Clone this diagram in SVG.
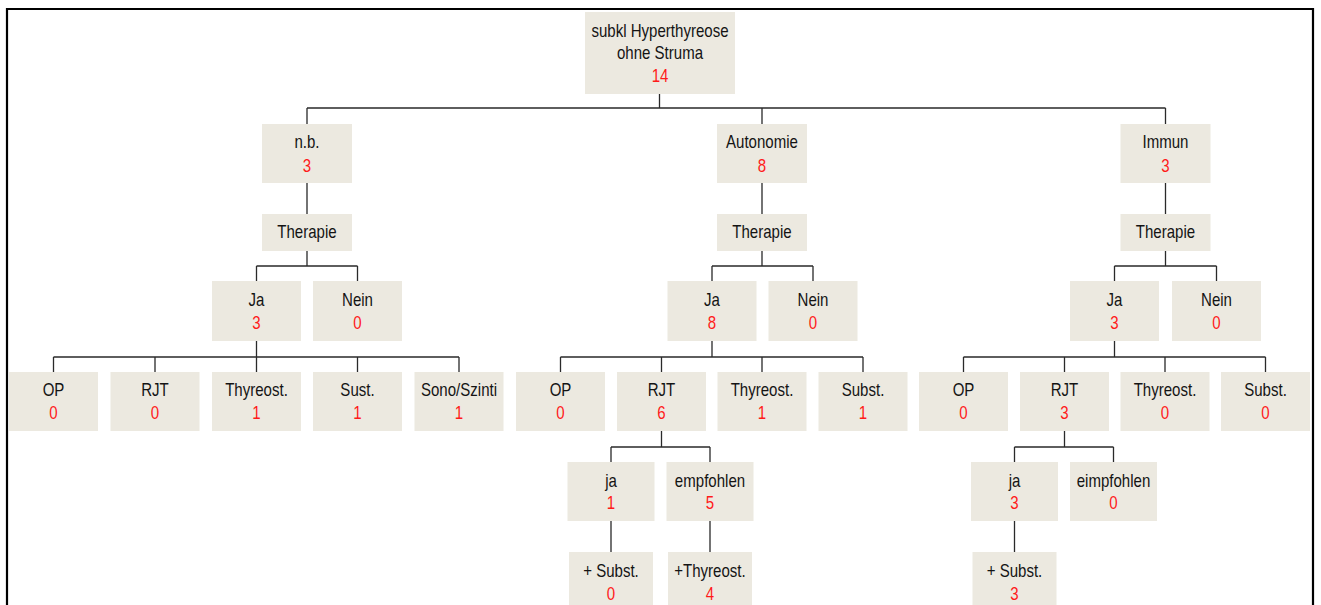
<svg xmlns="http://www.w3.org/2000/svg" width="1321" height="605" viewBox="0 0 1321 605">
  <style>
    .box { fill: #ECE9E0; }
    .t { font-family: "Liberation Sans", Arial, sans-serif; font-size: 17.5px; text-anchor: middle; fill: #141414; }
    .n { fill: #FF1A1A; }
    .wire { fill: none; stroke: #2a2a2a; stroke-width: 1.3; }
    .frame { fill: none; stroke: #000; stroke-width: 2.2; }
  </style>

  <rect width="1321" height="605" fill="#fff"/>
  <!-- outer frame, open at the bottom -->
  <path class="frame" d="M7,620 V9 H1313 V620"/>

  <!-- connectors -->
  <g id="connectors" class="wire">
    <!-- root to level 1 -->
    <path d="M659.5,94 V108 M307,108 H1165.5 M307,108 V124 M762,108 V124 M1165.5,108 V124"/>
    <!-- level 1 to Therapie -->
    <path d="M307,183 V214 M762,183 V214 M1165.5,183 V214"/>
    <!-- Therapie to Ja / Nein -->
    <path d="M307,251 V266 M256.5,266 H357.5 M256.5,266 V281 M357.5,266 V281"/>
    <path d="M762,251 V266 M712,266 H813 M712,266 V281 M813,266 V281"/>
    <path d="M1165.5,251 V266 M1114.5,266 H1216.5 M1114.5,266 V281 M1216.5,266 V281"/>
    <!-- Ja to treatment options -->
    <path d="M256.5,341 V372 M53.5,357 H459 M53.5,357 V372 M155,357 V372 M357.5,357 V372 M459,357 V372"/>
    <path d="M712,341 V357 M560.5,357 H863 M560.5,357 V372 M661.5,357 V372 M762,357 V372 M863,357 V372"/>
    <path d="M1114.5,341 V357 M963.5,357 H1265.5 M963.5,357 V372 M1064.5,357 V372 M1165,357 V372 M1265.5,357 V372"/>
    <!-- RJT to ja / empfohlen -->
    <path d="M661.5,431 V447 M611,447 H710 M611,447 V462 M710,447 V462"/>
    <path d="M1064.5,431 V447 M1014.5,447 H1113.5 M1014.5,447 V462 M1113.5,447 V462"/>
    <!-- follow-up -->
    <path d="M611,521 V552 M710,521 V552 M1014.5,521 V552"/>
  </g>

  <!-- root -->
  <g id="root" transform="translate(660,0)">
    <rect class="box" x="-75" y="12" width="150" height="82"/>
    <text class="t" transform="translate(0,37) scale(0.86,1)">subkl Hyperthyreose</text>
    <text class="t" transform="translate(0,59) scale(0.86,1)">ohne Struma</text>
    <text class="t n" transform="translate(0,82) scale(0.86,1)">14</text>
  </g>

  <!-- level 1 -->
  <g id="nb" transform="translate(307,0)">
    <rect class="box" x="-45" y="124" width="90" height="59"/>
    <text class="t" transform="translate(0,148) scale(0.86,1)">n.b.</text>
    <text class="t n" transform="translate(0,172) scale(0.86,1)">3</text>
  </g>
  <g id="autonomie" transform="translate(762,0)">
    <rect class="box" x="-45" y="124" width="90" height="59"/>
    <text class="t" transform="translate(0,148) scale(0.86,1)">Autonomie</text>
    <text class="t n" transform="translate(0,172) scale(0.86,1)">8</text>
  </g>
  <g id="immun" transform="translate(1165.5,0)">
    <rect class="box" x="-45" y="124" width="90" height="59"/>
    <text class="t" transform="translate(0,148) scale(0.86,1)">Immun</text>
    <text class="t n" transform="translate(0,172) scale(0.86,1)">3</text>
  </g>

  <!-- Therapie -->
  <g id="nb-therapie" transform="translate(307,0)">
    <rect class="box" x="-45" y="214" width="90" height="37"/>
    <text class="t" transform="translate(0,238) scale(0.86,1)">Therapie</text>
  </g>
  <g id="aut-therapie" transform="translate(762,0)">
    <rect class="box" x="-45" y="214" width="90" height="37"/>
    <text class="t" transform="translate(0,238) scale(0.86,1)">Therapie</text>
  </g>
  <g id="imm-therapie" transform="translate(1165.5,0)">
    <rect class="box" x="-45" y="214" width="90" height="37"/>
    <text class="t" transform="translate(0,238) scale(0.86,1)">Therapie</text>
  </g>

  <!-- Ja / Nein -->
  <g id="nb-ja" transform="translate(256.5,0)">
    <rect class="box" x="-44.5" y="281" width="89" height="60"/>
    <text class="t" transform="translate(0,306) scale(0.86,1)">Ja</text>
    <text class="t n" transform="translate(0,329) scale(0.86,1)">3</text>
  </g>
  <g id="nb-nein" transform="translate(357.5,0)">
    <rect class="box" x="-44.5" y="281" width="89" height="60"/>
    <text class="t" transform="translate(0,306) scale(0.86,1)">Nein</text>
    <text class="t n" transform="translate(0,329) scale(0.86,1)">0</text>
  </g>
  <g id="aut-ja" transform="translate(712,0)">
    <rect class="box" x="-44.5" y="281" width="89" height="60"/>
    <text class="t" transform="translate(0,306) scale(0.86,1)">Ja</text>
    <text class="t n" transform="translate(0,329) scale(0.86,1)">8</text>
  </g>
  <g id="aut-nein" transform="translate(813,0)">
    <rect class="box" x="-44.5" y="281" width="89" height="60"/>
    <text class="t" transform="translate(0,306) scale(0.86,1)">Nein</text>
    <text class="t n" transform="translate(0,329) scale(0.86,1)">0</text>
  </g>
  <g id="imm-ja" transform="translate(1114.5,0)">
    <rect class="box" x="-44.5" y="281" width="89" height="60"/>
    <text class="t" transform="translate(0,306) scale(0.86,1)">Ja</text>
    <text class="t n" transform="translate(0,329) scale(0.86,1)">3</text>
  </g>
  <g id="imm-nein" transform="translate(1216.5,0)">
    <rect class="box" x="-44.5" y="281" width="89" height="60"/>
    <text class="t" transform="translate(0,306) scale(0.86,1)">Nein</text>
    <text class="t n" transform="translate(0,329) scale(0.86,1)">0</text>
  </g>

  <!-- treatment options: n.b. -->
  <g id="nb-op" transform="translate(53.5,0)">
    <rect class="box" x="-44.5" y="372" width="89" height="59"/>
    <text class="t" transform="translate(0,396) scale(0.86,1)">OP</text>
    <text class="t n" transform="translate(0,419) scale(0.86,1)">0</text>
  </g>
  <g id="nb-rjt" transform="translate(155,0)">
    <rect class="box" x="-44.5" y="372" width="89" height="59"/>
    <text class="t" transform="translate(0,396) scale(0.86,1)">RJT</text>
    <text class="t n" transform="translate(0,419) scale(0.86,1)">0</text>
  </g>
  <g id="nb-thyreost" transform="translate(256.5,0)">
    <rect class="box" x="-44.5" y="372" width="89" height="59"/>
    <text class="t" transform="translate(0,396) scale(0.86,1)">Thyreost.</text>
    <text class="t n" transform="translate(0,419) scale(0.86,1)">1</text>
  </g>
  <g id="nb-sust" transform="translate(357.5,0)">
    <rect class="box" x="-44.5" y="372" width="89" height="59"/>
    <text class="t" transform="translate(0,396) scale(0.86,1)">Sust.</text>
    <text class="t n" transform="translate(0,419) scale(0.86,1)">1</text>
  </g>
  <g id="nb-sono" transform="translate(459,0)">
    <rect class="box" x="-44.5" y="372" width="89" height="59"/>
    <text class="t" transform="translate(0,396) scale(0.86,1)">Sono/Szinti</text>
    <text class="t n" transform="translate(0,419) scale(0.86,1)">1</text>
  </g>

  <!-- treatment options: Autonomie -->
  <g id="aut-op" transform="translate(560.5,0)">
    <rect class="box" x="-44.5" y="372" width="89" height="59"/>
    <text class="t" transform="translate(0,396) scale(0.86,1)">OP</text>
    <text class="t n" transform="translate(0,419) scale(0.86,1)">0</text>
  </g>
  <g id="aut-rjt" transform="translate(661.5,0)">
    <rect class="box" x="-44.5" y="372" width="89" height="59"/>
    <text class="t" transform="translate(0,396) scale(0.86,1)">RJT</text>
    <text class="t n" transform="translate(0,419) scale(0.86,1)">6</text>
  </g>
  <g id="aut-thyreost" transform="translate(762,0)">
    <rect class="box" x="-44.5" y="372" width="89" height="59"/>
    <text class="t" transform="translate(0,396) scale(0.86,1)">Thyreost.</text>
    <text class="t n" transform="translate(0,419) scale(0.86,1)">1</text>
  </g>
  <g id="aut-subst" transform="translate(863,0)">
    <rect class="box" x="-44.5" y="372" width="89" height="59"/>
    <text class="t" transform="translate(0,396) scale(0.86,1)">Subst.</text>
    <text class="t n" transform="translate(0,419) scale(0.86,1)">1</text>
  </g>

  <!-- treatment options: Immun -->
  <g id="imm-op" transform="translate(963.5,0)">
    <rect class="box" x="-44.5" y="372" width="89" height="59"/>
    <text class="t" transform="translate(0,396) scale(0.86,1)">OP</text>
    <text class="t n" transform="translate(0,419) scale(0.86,1)">0</text>
  </g>
  <g id="imm-rjt" transform="translate(1064.5,0)">
    <rect class="box" x="-44.5" y="372" width="89" height="59"/>
    <text class="t" transform="translate(0,396) scale(0.86,1)">RJT</text>
    <text class="t n" transform="translate(0,419) scale(0.86,1)">3</text>
  </g>
  <g id="imm-thyreost" transform="translate(1165,0)">
    <rect class="box" x="-44.5" y="372" width="89" height="59"/>
    <text class="t" transform="translate(0,396) scale(0.86,1)">Thyreost.</text>
    <text class="t n" transform="translate(0,419) scale(0.86,1)">0</text>
  </g>
  <g id="imm-subst" transform="translate(1265.5,0)">
    <rect class="box" x="-44.5" y="372" width="89" height="59"/>
    <text class="t" transform="translate(0,396) scale(0.86,1)">Subst.</text>
    <text class="t n" transform="translate(0,419) scale(0.86,1)">0</text>
  </g>

  <!-- RJT outcome: Autonomie -->
  <g id="aut-rjt-ja" transform="translate(611,0)">
    <rect class="box" x="-43.5" y="462" width="87" height="59"/>
    <text class="t" transform="translate(0,486.5) scale(0.86,1)">ja</text>
    <text class="t n" transform="translate(0,509) scale(0.86,1)">1</text>
  </g>
  <g id="aut-rjt-empf" transform="translate(710,0)">
    <rect class="box" x="-43.5" y="462" width="87" height="59"/>
    <text class="t" transform="translate(0,486.5) scale(0.86,1)">empfohlen</text>
    <text class="t n" transform="translate(0,509) scale(0.86,1)">5</text>
  </g>
  <g id="aut-rjt-subst" transform="translate(611,0)">
    <rect class="box" x="-42" y="552" width="84" height="60"/>
    <text class="t" transform="translate(0,577) scale(0.86,1)">+ Subst.</text>
    <text class="t n" transform="translate(0,600) scale(0.86,1)">0</text>
  </g>
  <g id="aut-rjt-thyreost" transform="translate(710,0)">
    <rect class="box" x="-42" y="552" width="84" height="60"/>
    <text class="t" transform="translate(0,577) scale(0.86,1)">+Thyreost.</text>
    <text class="t n" transform="translate(0,600) scale(0.86,1)">4</text>
  </g>

  <!-- RJT outcome: Immun -->
  <g id="imm-rjt-ja" transform="translate(1014.5,0)">
    <rect class="box" x="-43.5" y="462" width="87" height="59"/>
    <text class="t" transform="translate(0,486.5) scale(0.86,1)">ja</text>
    <text class="t n" transform="translate(0,509) scale(0.86,1)">3</text>
  </g>
  <g id="imm-rjt-empf" transform="translate(1113.5,0)">
    <rect class="box" x="-43.5" y="462" width="87" height="59"/>
    <text class="t" transform="translate(0,486.5) scale(0.86,1)">eimpfohlen</text>
    <text class="t n" transform="translate(0,509) scale(0.86,1)">0</text>
  </g>
  <g id="imm-rjt-subst" transform="translate(1014.5,0)">
    <rect class="box" x="-42" y="552" width="84" height="60"/>
    <text class="t" transform="translate(0,577) scale(0.86,1)">+ Subst.</text>
    <text class="t n" transform="translate(0,600) scale(0.86,1)">3</text>
  </g>
</svg>
